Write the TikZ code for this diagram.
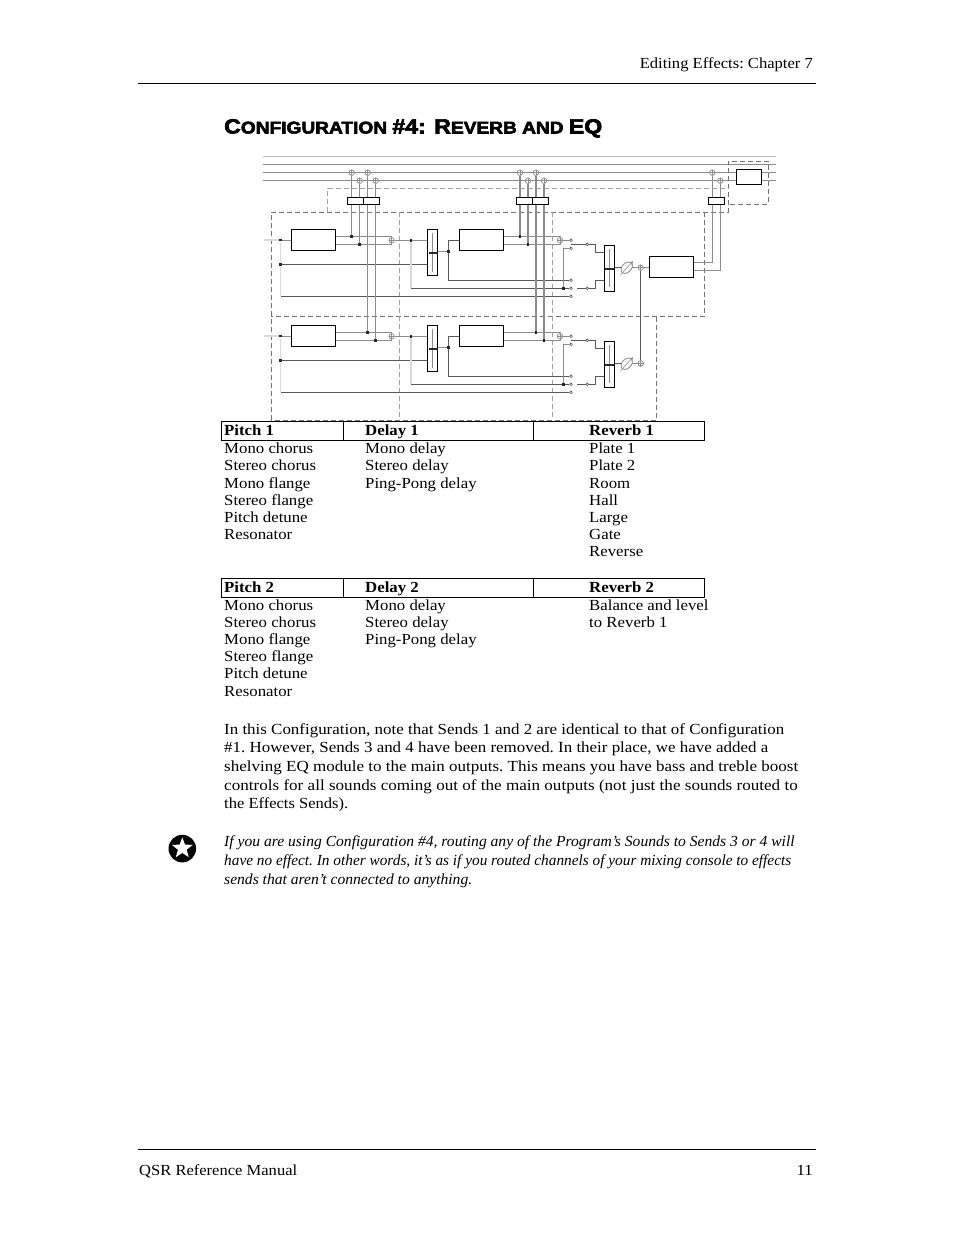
\documentclass[tikz,border=0pt]{standalone}
\usepackage{fontspec}
\usepackage{graphicx}
\usetikzlibrary{shapes.geometric,arrows.meta}
\setmainfont[FakeStretch=1.09]{Liberation Serif}
\newfontfamily\headfont[UprightFont=* Bold,FakeBold=3]{Liberation Sans}
\newcommand\fitw[2]{\resizebox{#1pt}{\height}{#2}}
\definecolor{wire}{gray}{0.55}
\definecolor{darkwire}{gray}{0.35}
\definecolor{pale}{gray}{0.85}
\definecolor{dashc}{gray}{0.45}
\tikzset{
  x=1pt,y=-1pt,
  wireg/.style={draw=wire,line width=1pt},
  wired/.style={draw=darkwire,line width=1pt},
  wirep/.style={draw=pale,line width=1.4pt},
  frame/.style={draw=dashc,line width=0.9pt,dash pattern=on 5pt off 3pt},
  framel/.style={draw=wire!80,line width=1pt,dash pattern=on 5pt off 3pt},
  fxbox/.style={draw=black,line width=1pt,fill=white,minimum width=44.4pt,minimum height=21pt,inner sep=0pt},
  sendbox/.style={draw=black,line width=1pt,fill=white,minimum width=16.3pt,minimum height=7.4pt,inner sep=0pt},
  eqbox/.style={draw=black,line width=1pt,fill=white,minimum width=25.4pt,minimum height=15pt,inner sep=0pt},
  faderbox/.style={draw=black,line width=1pt,fill=white,minimum width=10.4pt,minimum height=46.4pt,inner sep=0pt},
  sumc/.style={circle,draw=wire,line width=0.6pt,fill=white,minimum size=5.4pt,inner sep=0pt,
    path picture={\draw[wire,line width=0.5pt] (path picture bounding box.north) -- (path picture bounding box.south)
      (path picture bounding box.west) -- (path picture bounding box.east);}},
  jdot/.style={fill=black!85,draw=none,minimum size=2.8pt,inner sep=0pt},
  opend/.style={circle,draw=darkwire,line width=0.5pt,fill=white,minimum size=2.6pt,inner sep=0pt},
  knob/.style={ellipse,draw=wire,line width=0.7pt,fill=white,minimum width=13pt,minimum height=9pt,inner sep=0pt,rotate=45},
  body/.style={anchor=base west,inner sep=0pt,font=\fontsize{15.4pt}{17pt}\selectfont\frenchspacing},
  bodyb/.style={body,font=\fontsize{15.4pt}{17pt}\selectfont\bfseries},
  bodyi/.style={body,font=\fontsize{15.4pt}{17pt}\selectfont\itshape\frenchspacing},
  bodyr/.style={body,anchor=base east},
  tabrow/.style={draw=black,line width=1pt},
}
\newcommand\Chan[2]{%
 \begin{scope}[shift={(0,#2)}]
  \node[fxbox] (#1pitch) at (313.5,239.8) {};
  \node[fxbox] (#1delay) at (481.5,239.8) {};
  \node[faderbox] (#1fa) at (432.5,252.5) {};
  \node[faderbox] (#1fb) at (609.5,268.5) {};
  \coordinate (#1in) at (264,240);
  \node[jdot] (#1ja) at (280.7,240) {};
  \node[jdot] (#1jb) at (280.7,264.3) {};
  \coordinate (#1ca) at (280.7,296.3);
  \coordinate (#1fain) at (427.3,264.3);
  \node[sumc] (#1sa) at (391.7,240.3) {};
  \node[sumc] (#1sb) at (560,240.3) {};
  \node[jdot] (#1jc) at (411,240.3) {};
  \coordinate (#1cb) at (411,288.3);
  \node[jdot] (#1jd) at (448.3,251.3) {};
  \coordinate (#1ce) at (448.3,240.3);
  \coordinate (#1cf) at (448.3,280.3);
  \node[opend] (#1oa) at (571,240.3) {};
  \node[opend] (#1ob) at (571,248.3) {};
  \node[opend] (#1oc) at (571,280.3) {};
  \node[opend] (#1od) at (571,288.3) {};
  \node[opend] (#1oe) at (571,296.3) {};
  \node[jdot] (#1je) at (563.3,288.3) {};
  \node[opend] (#1of) at (587.3,244.3) {};
  \node[opend] (#1og) at (587.3,288.3) {};
  \coordinate (#1cg) at (571,244.3);
  \coordinate (#1ch) at (577,288.3);
  \coordinate (#1ci) at (595,244.3);
  \coordinate (#1cj) at (595,252.7);
  \coordinate (#1ck) at (595,288.3);
  \coordinate (#1cl) at (595,280.3);
  \coordinate (#1cm) at (563.3,248.3);
  \node[knob] (#1kn) at (626.7,267.7) {};
  \coordinate (#1ka) at (620.5,274.8);
  \coordinate (#1kb) at (633.2,261);
  \node[sumc] (#1sc) at (640.7,267.7) {};
  \coordinate (#1pu) at (391.7,236.3);
  \coordinate (#1pl) at (391.7,244.3);
  \coordinate (#1du) at (560,236.3);
  \coordinate (#1dl) at (560,244.3);
  \coordinate (#1fu) at (432.3,233.3);
  \coordinate (#1fv) at (432.3,271.7);
  \coordinate (#1gu) at (609,249);
  \coordinate (#1gv) at (609,287);
  % wires
  \draw[wirep] (#1in) -- (#1ja);
  \draw[wireg] (#1ja) -- (#1pitch.west|-#1ja);
  \draw[wirep] (#1ja) -- (#1ca);
  \draw[wired] (#1ca) -- (#1oe);
  \draw[wired] (#1jb) -- (#1fain);
  \draw[wireg] (#1pitch.east|-#1pu) -- (#1pu) -- (#1sa);
  \draw[wireg] (#1pitch.east|-#1pl) -- (#1pl) -- (#1sa);
  \draw[wireg] (#1sa) -- (#1fa.west|-#1sa);
  \draw[wirep] (#1jc) -- (#1cb);
  \draw[wired] (#1cb) -- (#1od);
  \draw[wireg] (#1fa.east|-#1jd) -- (#1jd);
  \draw[wired] (#1jd) -- (#1ce) -- (#1delay.west|-#1ce);
  \draw[wired] (#1jd) -- (#1cf) -- (#1oc);
  \draw[wireg] (#1delay.east|-#1du) -- (#1du) -- (#1sb);
  \draw[wireg] (#1delay.east|-#1dl) -- (#1dl) -- (#1sb);
  \draw[wireg] (#1sb) -- (#1oa);
  \draw[wireg] (#1je) -- (#1cm) -- (#1ob);
  \draw[wired] (#1cg) -- (#1of) -- (#1ci) -- (#1cj) -- (#1fb.west|-#1cj);
  \draw[wired] (#1ch) -- (#1og) -- (#1ck) -- (#1cl) -- (#1fb.west|-#1cl);
  \draw[wired] (#1fb.east|-#1kn) -- (#1kn);
  \draw[wireg] (#1kn) -- (#1sc);
  \node[knob] at (#1kn) {};
  \node[sumc] at (#1sa) {};
  \node[sumc] at (#1sb) {};
  \node[jdot] at (#1jc) {};
  \node[opend] at (#1of) {};
  \node[opend] at (#1og) {};
  \node[opend] at (#1oa) {};
  \node[opend] at (#1ob) {};
  \node[opend] at (#1oc) {};
  \node[opend] at (#1od) {};
  \node[opend] at (#1oe) {};
  \node[jdot] at (#1je) {};
  \node[jdot] at (#1jd) {};
  \node[jdot] at (#1ja) {};
  \node[jdot] at (#1jb) {};
  \draw[wireg,line width=0.6pt,-{Straight Barb[length=3pt,width=3pt]}] (#1ka) -- (#1kb);
  \draw[wireg,line width=0.6pt] (#1fu) -- (#1fv);
  \draw[wireg,line width=0.6pt] (#1gu) -- (#1gv);
  \fill[black!85] ([xshift=-3.5pt,yshift=1pt]#1fa.center) rectangle ([xshift=5.2pt,yshift=-1pt]#1fa.center);
  \fill[black!85] ([xshift=-5pt,yshift=1pt]#1fb.center) rectangle ([xshift=4pt,yshift=-1pt]#1fb.center);
 \end{scope}}
\begin{document}
\begin{tikzpicture}
\useasboundingbox (0,0) rectangle (954,1235);
\fill[white] (0,0) rectangle (954,1235);
% page furniture
\coordinate (rta) at (138,83.5); \coordinate (rtb) at (816,83.5);
\coordinate (rba) at (138,1149.5); \coordinate (rbb) at (816,1149.5);
\draw[line width=1pt] (rta) -- (rtb);
\draw[line width=1pt] (rba) -- (rbb);
\node[bodyr] (hdr) at (813,68) {\fitw{173}{Editing Effects: Chapter 7}};
\node[body] (ftl) at (139,1175) {\fitw{158}{QSR Reference Manual}};
\node[bodyr] (ftr) at (813,1175) {11};
\node[anchor=base west,inner sep=0pt,font=\headfont] (title) at (224,133.5)
 {\fitw{378}{\fontsize{20.5pt}{20pt}\selectfont C\fontsize{17pt}{20pt}\selectfont ONFIGURATION \fontsize{20.5pt}{20pt}\selectfont\#4: R\fontsize{17pt}{20pt}\selectfont EVERB AND \fontsize{20.5pt}{20pt}\selectfont EQ}};
% bus
\coordinate (b1a) at (263,156.3); \coordinate (b1b) at (776,156.3);
\coordinate (b2a) at (263,164.7); \coordinate (b2b) at (776,164.7);
\coordinate (b3a) at (263,172.7); \coordinate (b3b) at (776,172.7);
\coordinate (b4a) at (263,180.7); \coordinate (b4b) at (776,180.7);
\draw[wireg,draw=pale!85!black,line width=1.1pt] (b1a) -- (b1b);
\draw[wireg,line width=1.1pt] (b2a) -- (b2b);
\draw[wireg,line width=1.1pt] (b3a) -- (b3b);
\draw[wireg] (b4a) -- (b4b);
% dashed frames
\coordinate (f1) at (271.3,212.3); \coordinate (f2) at (728.3,212.3);
\coordinate (f3) at (704.3,212.3); \coordinate (f4) at (704.3,316.5);
\coordinate (f5) at (271.3,316.5); \coordinate (f6) at (656.3,316.5);
\coordinate (f7) at (656.3,420.3); \coordinate (f8) at (271.3,420.3);
\coordinate (f9) at (327.7,212.3); \coordinate (f10) at (327.7,188.3);
\coordinate (f11) at (728.3,188.3);
\coordinate (f12) at (728.3,161.3); \coordinate (f13) at (768.3,161.3);
\coordinate (f14) at (768.3,204.3); \coordinate (f15) at (728.3,204.3);
\coordinate (f16) at (399.7,212.3); \coordinate (f17) at (399.7,420.3);
\coordinate (f18) at (552,212.3); \coordinate (f19) at (552,420.3);
\draw[frame] (f8) -- (f1) -- (f2) -- (f12) -- (f13) -- (f14) -- (f15);
\draw[framel] (f9) -- (f10) -- (f11);
\draw[frame] (f3) -- (f4) -- (f5);
\draw[frame] (f6) -- (f7) -- (f8);
\draw[framel] (f16) -- (f17);
\draw[framel] (f18) -- (f19);
% channels
\Chan{a}{0}
\Chan{c}{96}
\node[sumc] (aout) at (640.7,363.3) {};
% sends: vertical wires
\node[sumc] (s1) at (351.7,172.7) {};
\node[sumc] (s2) at (359.7,180.7) {};
\node[sumc] (s3) at (367.7,172.7) {};
\node[sumc] (s4) at (375.7,180.7) {};
\node[sumc] (s5) at (520,172.7) {};
\node[sumc] (s6) at (528,180.7) {};
\node[sumc] (s7) at (536,172.7) {};
\node[sumc] (s8) at (544,180.7) {};
\node[sumc] (s9) at (712.3,172.7) {};
\node[sumc] (s10) at (720.3,180.7) {};
\node[jdot] (d1) at (351.7,236.3) {};
\node[jdot] (d2) at (359.7,244.3) {};
\node[jdot] (d3) at (367.7,332.3) {};
\node[jdot] (d4) at (375.7,340.3) {};
\node[jdot] (d5) at (520,236.3) {};
\node[jdot] (d6) at (528,244.3) {};
\node[jdot] (d7) at (536,332.3) {};
\node[jdot] (d8) at (544,340.3) {};
\foreach \a/\b in {s1/d1,s2/d2,s3/d3,s4/d4,s5/d5,s6/d6,s7/d7,s8/d8}
  \draw[wireg,line width=1.1pt] (\a) -- (\b);
\node[sendbox] (sb1) at (355.5,201) {};
\node[sendbox] (sb2) at (371.7,201) {};
\node[sendbox] (sb3) at (524.4,201) {};
\node[sendbox] (sb4) at (540.5,201) {};
\node[sendbox] (sb5) at (716.5,201) {};
\node[sumc] at (s1) {}; \node[sumc] at (s2) {}; \node[sumc] at (s3) {}; \node[sumc] at (s4) {};
\node[sumc] at (s5) {}; \node[sumc] at (s6) {}; \node[sumc] at (s7) {}; \node[sumc] at (s8) {};
\node[jdot] at (d1) {}; \node[jdot] at (d2) {}; \node[jdot] at (d3) {}; \node[jdot] at (d4) {};
\node[jdot] at (d5) {}; \node[jdot] at (d6) {}; \node[jdot] at (d7) {}; \node[jdot] at (d8) {};
% EQ and reverb out
\node[eqbox] (eq) at (749,176.8) {};
\node[fxbox] (rev) at (671.5,266.8) {};
\coordinate (ro1) at (712.3,262.7); \coordinate (ro2) at (720.3,270.3);
\draw[wireg,line width=1.1pt] (rev.east|-ro1) -- (ro1) -- (s9);
\draw[wireg,line width=1.1pt] (rev.east|-ro2) -- (ro2) -- (s10);
\node[sendbox] at (sb5) {};
\node[sumc] at (s9) {}; \node[sumc] at (s10) {};
\draw[wireg] (asc) -- (rev.west|-asc);
\draw[wired] (asc) -- (aout);
\node[sumc] at (asc) {}; \node[sumc] at (aout) {};
% tables
\node[tabrow,minimum width=122pt,minimum height=19pt,inner sep=0pt] (t1a) at (282.3,431) {};
\node[tabrow,minimum width=190pt,minimum height=19pt,inner sep=0pt] (t1b) at (438,431) {};
\node[tabrow,minimum width=171pt,minimum height=19pt,inner sep=0pt] (t1c) at (618.5,431) {};
\node[bodyb] (h1) at (224,435) {Pitch 1};
\node[bodyb] (h2) at (365,435) {Delay 1};
\node[bodyb] (h3) at (589,435) {Reverb 1};
\foreach \n/\y/\tx in {a/453/Mono chorus,b/470/Stereo chorus,c/488/Mono flange,d/505/Stereo flange,e/522/Pitch detune,f/539/Resonator}
  \node[body] (pa\n) at (224,\y) {\tx};
\foreach \n/\y/\tx in {a/453/Mono delay,b/470/Stereo delay,c/488/Ping-Pong delay}
  \node[body] (da\n) at (365,\y) {\tx};
\foreach \n/\y/\tx in {a/453/Plate 1,b/470/Plate 2,c/488/Room,d/505/Hall,e/522/Large,f/539/Gate,g/556/Reverse}
  \node[body] (ra\n) at (589,\y) {\tx};
\node[tabrow,minimum width=122pt,minimum height=19pt,inner sep=0pt] (t2a) at (282.3,588) {};
\node[tabrow,minimum width=190pt,minimum height=19pt,inner sep=0pt] (t2b) at (438,588) {};
\node[tabrow,minimum width=171pt,minimum height=19pt,inner sep=0pt] (t2c) at (618.5,588) {};
\node[bodyb] (h4) at (224,592) {Pitch 2};
\node[bodyb] (h5) at (365,592) {Delay 2};
\node[bodyb] (h6) at (589,592) {Reverb 2};
\foreach \n/\y/\tx in {a/610/Mono chorus,b/627/Stereo chorus,c/644/Mono flange,d/661/Stereo flange,e/678/Pitch detune,f/696/Resonator}
  \node[body] (pb\n) at (224,\y) {\tx};
\foreach \n/\y/\tx in {a/610/Mono delay,b/627/Stereo delay,c/644/Ping-Pong delay}
  \node[body] (db\n) at (365,\y) {\tx};
\node[body] (rba1) at (589,610) {Balance and level};
\node[body] (rba2) at (589,627) {to Reverb 1};
% paragraph
\node[body] (l1) at (224,734) {\fitw{560}{In this Configuration, note that Sends 1 and 2 are identical to that of Configuration}};
\node[body] (l2) at (224,752) {\fitw{544}{\#1. However, Sends 3 and 4 have been removed. In their place, we have added a}};
\node[body] (l3) at (224,771) {\fitw{574}{shelving EQ module to the main outputs. This means you have bass and treble boost}};
\node[body] (l4) at (224,790) {\fitw{573.5}{controls for all sounds coming out of the main outputs (not just the sounds routed to}};
\node[body] (l5) at (224,808) {\fitw{124}{the Effects Sends).}};
% note
\node[circle,fill=black,minimum size=27.6pt,inner sep=0pt] (ic) at (182.3,848.6) {};
\node[star,star points=5,star point ratio=2.4,fill=white,minimum size=22pt,inner sep=0pt] (st) at (182.3,848.3) {};
\node[bodyi] (n1) at (224,846) {\fitw{570.5}{If you are using Configuration \#4, routing any of the Program’s Sounds to Sends 3 or 4 will}};
\node[bodyi] (n2) at (224,865) {\fitw{567}{have no effect. In other words, it’s as if you routed channels of your mixing console to effects}};
\node[bodyi] (n3) at (224,884) {\fitw{248}{sends that aren’t connected to anything.}};
\end{tikzpicture}
\end{document}
